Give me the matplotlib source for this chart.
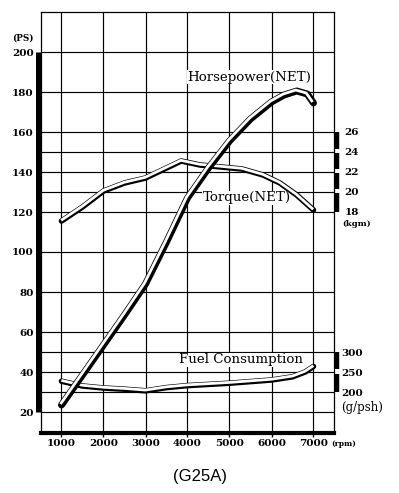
import matplotlib
matplotlib.use("Agg")
import matplotlib.pyplot as plt
from matplotlib.transforms import offset_copy, blended_transform_factory

# ---- data ----
rpm_hp = [1000, 1500, 2000, 2500, 3000, 3500, 4000, 4500, 5000, 5500, 6000, 6300, 6600, 6850, 7000]
hp_ps = [23.5, 38.5, 53.5, 68.5, 84, 105, 127, 142, 155.5, 166.5, 175, 178.5, 180.5, 179, 174.5]

rpm_tq = [1000, 1500, 2000, 2500, 3000, 3500, 3850, 4300, 4800, 5300, 5800, 6200, 6600, 7000]
torque_kgm = [17.1, 18.5, 20.1, 20.9, 21.4, 22.4, 23.1, 22.7, 22.5, 22.3, 21.7, 20.9, 19.7, 18.2]

rpm_fc = [1000, 1500, 2000, 2500, 3000, 3500, 4000, 4500, 5000, 5500, 6000, 6500, 6800, 7000]
fuel_gpsh = [227, 215, 210, 207, 203, 211, 216, 219, 222, 226, 230, 238, 250, 264]

x_ticks = [1000, 2000, 3000, 4000, 5000, 6000, 7000]
ps_ticks = [20, 40, 60, 80, 100, 120, 140, 160, 180, 200]
ps_minor = [30, 50, 130, 150]
tq_ticks = [18, 20, 22, 24, 26]
fc_ticks = [200, 250, 300]

W, H = 399, 493
fig = plt.figure(figsize=(W / 100, H / 100), dpi=100)
fig.patch.set_facecolor("white")

L, R, B, T = 40.5, 334.5, 433, 12
ax = fig.add_axes([L / W, 1 - B / H, (R - L) / W, (B - T) / H])

ps_lo, ps_hi = 9.5, 220
ax.set_xlim(500, 7500)
ax.set_ylim(ps_lo, ps_hi)


# torque axis: 18 kgm at 120 PS, 1 kgm = 5 PS
def ps_to_tq(p):
    return 18 + (p - 120) / 5.0


# fuel axis: 200 g/psh at 30 PS, 5 g/psh = 1 PS
def ps_to_fc(p):
    return 200 + (p - 30) * 5.0


serif = "DejaVu Serif"
tick_font = dict(family=serif, weight="bold", size=7.5)

ax.set_xticks(x_ticks)
ax.set_xticklabels([str(v) for v in x_ticks], fontdict=tick_font)
ax.set_yticks(ps_ticks)
ax.set_yticklabels([str(v) for v in ps_ticks], fontdict=tick_font)
ax.set_yticks(ps_minor, minor=True)
ax.tick_params(axis="y", which="both", length=0, pad=5.0)
ax.tick_params(axis="x", which="major", length=3, width=1, direction="out", pad=1.2, color="black")
ax.grid(True, which="both", color="black", linewidth=0.85)
ax.set_axisbelow(True)
for s in ["top", "right", "left"]:
    ax.spines[s].set_linewidth(0.9)
ax.spines["bottom"].set_linewidth(3.0)

# thick left bar (20 - 200 PS)
tr_left = blended_transform_factory(ax.transAxes, ax.transData)
ax.plot([-0.0085, -0.0085], [20, 200], transform=tr_left, color="black",
        linewidth=3.6, solid_capstyle="butt", clip_on=False, zorder=5)

# twin axes
ax2 = ax.twinx()
ax2.set_ylim(ps_to_tq(ps_lo), ps_to_tq(ps_hi))
ax3 = ax.twinx()
ax3.set_ylim(ps_to_fc(ps_lo), ps_to_fc(ps_hi))
ax4 = ax.twinx()
ax4.set_ylim(ps_lo, ps_hi)
for a in (ax2, ax3, ax4):
    for s in a.spines.values():
        s.set_visible(False)
    a.set_xlim(500, 7500)

ax2.set_yticks(tq_ticks)
ax2.set_yticklabels([str(v) for v in tq_ticks], fontdict=tick_font)
ax2.tick_params(axis="y", length=0, pad=7.3)
ax3.set_yticks(fc_ticks)
ax3.set_yticklabels([str(v) for v in fc_ticks], fontdict=tick_font)
ax3.tick_params(axis="y", length=0, pad=5.0)
ax4.set_yticks([])

# right bars
tr_tq = blended_transform_factory(ax.transAxes, ax2.transData)
for y0, y1 in [(26, 24.25), (23.9, 22.25), (21.9, 20.25), (19.9, 18)]:
    ax2.plot([1.0085, 1.0085], [y0, y1], transform=tr_tq, color="black",
             linewidth=3.2, solid_capstyle="butt", clip_on=False)
tr_fc = blended_transform_factory(ax.transAxes, ax3.transData)
for y0, y1 in [(300, 258), (245, 200)]:
    ax3.plot([1.0085, 1.0085], [y0, y1], transform=tr_fc, color="black",
             linewidth=3.2, solid_capstyle="butt", clip_on=False)


def ribbon(a, x, y, black_w, white_w, dx, dy):
    a.plot(x, y, color="black", linewidth=black_w, solid_capstyle="round",
           solid_joinstyle="round", zorder=3)
    tr = offset_copy(a.transData, fig=fig, x=dx, y=dy, units="points")
    a.plot(x, y, color="white", linewidth=white_w, solid_capstyle="butt",
           solid_joinstyle="round", transform=tr, zorder=4)


ribbon(ax2, rpm_tq, torque_kgm, 4.0, 2.0, -0.25, 0.5)
ribbon(ax3, rpm_fc, fuel_gpsh, 4.0, 2.0, -0.1, 0.55)
ribbon(ax4, rpm_hp, hp_ps, 5.0, 2.0, -0.7, 0.7)

# curve labels
lab = dict(family=serif, size=9.6, color="black", va="center", ha="left", zorder=2.5,
           bbox=dict(facecolor="white", edgecolor="none", pad=0.3))
ax.text(3990, 187.5, "Horsepower(NET)", **lab)
ax.text(4360, 127, "Torque(NET)", **lab)
ax.text(3800, 46, "Fuel Consumption", **lab)


# unit labels
def ftext(px, py, s, **kw):
    fig.text(px / W, 1 - py / H, s, **kw)


ftext(22.5, 38.5, "(PS)", family=serif, weight="bold", size=6.3, ha="center", va="center")
ftext(357, 224, "(kgm)", family=serif, weight="bold", size=6, ha="center", va="center")
ftext(331, 444, "(rpm)", family=serif, weight="bold", size=5.5, ha="left", va="center")
ftext(341, 408, "(g/psh)", family=serif, size=8.5, ha="left", va="center")
ftext(200, 476, "(G25A)", family="Liberation Sans", size=12, ha="center", va="center")

fig.savefig("out.png", dpi=100, facecolor="white")
